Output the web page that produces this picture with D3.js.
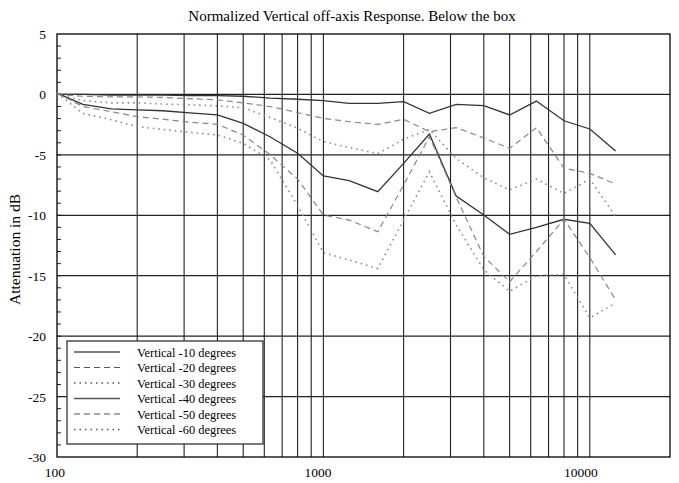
<!DOCTYPE html>
<html>
<head>
<meta charset="utf-8">
<script src="https://cdn.jsdelivr.net/npm/d3@7"></script>
<style>
  body { margin: 0; background: #fff; }
  svg { display: block; font-family: "Liberation Serif", "Times New Roman", serif; }
</style>
</head>
<body>
<div id="chart"></div>
<script>
// third-octave band centres (Hz)
const freqs = [100, 125, 160, 200, 250, 315, 400, 500, 630, 800, 1000, 1250, 1600,
               2000, 2500, 3150, 4000, 5000, 6300, 8000, 10000, 12500];

// attenuation in dB
const deg10 = [0, 0, -0.05, -0.05, -0.05, -0.1, -0.1, -0.15, -0.3, -0.4, -0.52, -0.74, -0.74,
               -0.6, -1.56, -0.82, -0.93, -1.7, -0.55, -2.18, -2.86, -4.68];
const deg20 = [0, -0.15, -0.2, -0.2, -0.25, -0.35, -0.45, -0.7, -1.0, -1.5, -1.98, -2.26, -2.48,
               -2.06, -3.08, -2.75, -3.6, -4.46, -2.75, -6.1, -6.53, -7.41];
const deg30 = [0, -0.5, -0.7, -0.7, -0.8, -0.85, -0.95, -1.1, -1.9, -2.8, -3.9, -4.4, -4.9,
               -3.7, -2.9, -5.3, -6.9, -7.9, -7.0, -8.2, -7.0, -10.1];
const deg40 = [0.1, -0.82, -1.2, -1.27, -1.35, -1.53, -1.7, -2.39, -3.5, -4.87, -6.75, -7.14, -8.05,
               -5.7, -3.28, -8.4, -9.97, -11.57, -11.0, -10.33, -10.66, -13.28];
const deg50 = [0.1, -1.0, -1.43, -1.84, -2.05, -2.3, -2.47, -3.36, -4.98, -7.0, -9.98, -10.4, -11.36,
               -7.5, -3.5, -8.5, -13.4, -15.5, -13.0, -10.33, -13.5, -17.0];
const deg60 = [0.1, -1.56, -2.1, -2.67, -2.9, -3.14, -3.36, -4.05, -5.4, -9.2, -13.1, -13.7, -14.4,
               -10.4, -6.4, -10.8, -14.5, -16.3, -15.0, -14.9, -18.5, -17.25];

const seriesNames = ["Vertical -10 degrees", "Vertical -20 degrees", "Vertical -30 degrees",
                     "Vertical -40 degrees", "Vertical -50 degrees", "Vertical -60 degrees"];
const seriesValues = [deg10, deg20, deg30, deg40, deg50, deg60];

const xTickLabels = [100, 1000, 10000];
const yTickLabels = [5, 0, -5, -10, -15, -20, -25, -30];

const title = "Normalized Vertical off-axis Response. Below the box";
const yTitle = "Attenuation in dB";

const styles = [
  {stroke: "#333", dash: null, width: 1.3},
  {stroke: "#888", dash: "6,4", width: 1.2},
  {stroke: "#888", dash: "1.5,4", width: 1.6},
  {stroke: "#333", dash: null, width: 1.3},
  {stroke: "#888", dash: "6,4", width: 1.2},
  {stroke: "#888", dash: "1.5,4", width: 1.6}
];

const width = 679, height = 483;
const margin = {top: 34, right: 9, bottom: 26, left: 57};

const svg = d3.select("#chart").append("svg")
  .attr("width", width)
  .attr("height", height);

const x = d3.scaleLog()
  .domain([100, 20000])
  .range([margin.left, width - margin.right]);

const y = d3.scaleLinear()
  .domain([-30, 5])
  .range([height - margin.bottom, margin.top]);

// vertical grid (log minor ticks 200..10000)
const vgrid = [];
[100, 1000].forEach(dec => { for (let k = 2; k <= 10; k++) vgrid.push(dec * k); });

svg.append("g").selectAll("line")
  .data(vgrid)
  .enter().append("line")
  .attr("x1", d => x(d)).attr("x2", d => x(d))
  .attr("y1", y(5)).attr("y2", y(-30))
  .attr("stroke", "#222").attr("stroke-width", 1.1);

// horizontal grid
svg.append("g").selectAll("line")
  .data([0, -5, -10, -15, -20, -25])
  .enter().append("line")
  .attr("x1", x(100)).attr("x2", x(20000))
  .attr("y1", d => y(d)).attr("y2", d => y(d))
  .attr("stroke", "#222").attr("stroke-width", 1.2);

// minor ticks on left axis, 1 dB
svg.append("g").selectAll("line")
  .data(d3.range(-29, 5))
  .enter().append("line")
  .attr("x1", x(100)).attr("x2", x(100) + 4)
  .attr("y1", d => y(d)).attr("y2", d => y(d))
  .attr("stroke", "#222").attr("stroke-width", 1);

// frame
svg.append("rect")
  .attr("x", x(100)).attr("y", y(5))
  .attr("width", x(20000) - x(100))
  .attr("height", y(-30) - y(5))
  .attr("fill", "none").attr("stroke", "#000").attr("stroke-width", 1.3);

// series
const line = d3.line()
  .x((d, i) => x(freqs[i]))
  .y(d => y(d));

svg.append("g").selectAll("path")
  .data(seriesValues)
  .enter().append("path")
  .attr("d", d => line(d))
  .attr("fill", "none")
  .attr("stroke", (d, i) => styles[i].stroke)
  .attr("stroke-width", (d, i) => styles[i].width)
  .attr("stroke-dasharray", (d, i) => styles[i].dash);

// axis labels
svg.append("g").selectAll("text")
  .data(yTickLabels)
  .enter().append("text")
  .attr("x", 46).attr("y", d => y(d) + 5)
  .attr("text-anchor", "end")
  .attr("font-size", 13.5)
  .text(d => d);

svg.append("g").selectAll("text")
  .data(xTickLabels)
  .enter().append("text")
  .attr("x", d => x(d) + 8).attr("y", 477)
  .attr("text-anchor", "end")
  .attr("font-size", 13.5)
  .text(d => d);

svg.append("text")
  .attr("x", 352).attr("y", 21)
  .attr("text-anchor", "middle")
  .attr("font-size", 15)
  .text(title);

svg.append("text")
  .attr("transform", `translate(20,${(y(5) + y(-30)) / 2 + 4}) rotate(-90)`)
  .attr("text-anchor", "middle")
  .attr("font-size", 15.5)
  .text(yTitle);

// legend
const legend = svg.append("g").attr("transform", "translate(67,341)");
legend.append("rect")
  .attr("width", 196).attr("height", 103)
  .attr("fill", "#fff").attr("stroke", "#222").attr("stroke-width", 1.2);

const rows = legend.selectAll("g")
  .data(seriesNames)
  .enter().append("g")
  .attr("transform", (d, i) => `translate(0,${11 + i * 15.5})`);

rows.append("line")
  .attr("x1", 7).attr("x2", 53)
  .attr("stroke", "#555")
  .attr("stroke-width", (d, i) => styles[i].width)
  .attr("stroke-dasharray", (d, i) => styles[i].dash);

rows.append("text")
  .attr("x", 70).attr("y", 4.5)
  .attr("font-size", 12.4)
  .text(d => d);
</script>
</body>
</html>
